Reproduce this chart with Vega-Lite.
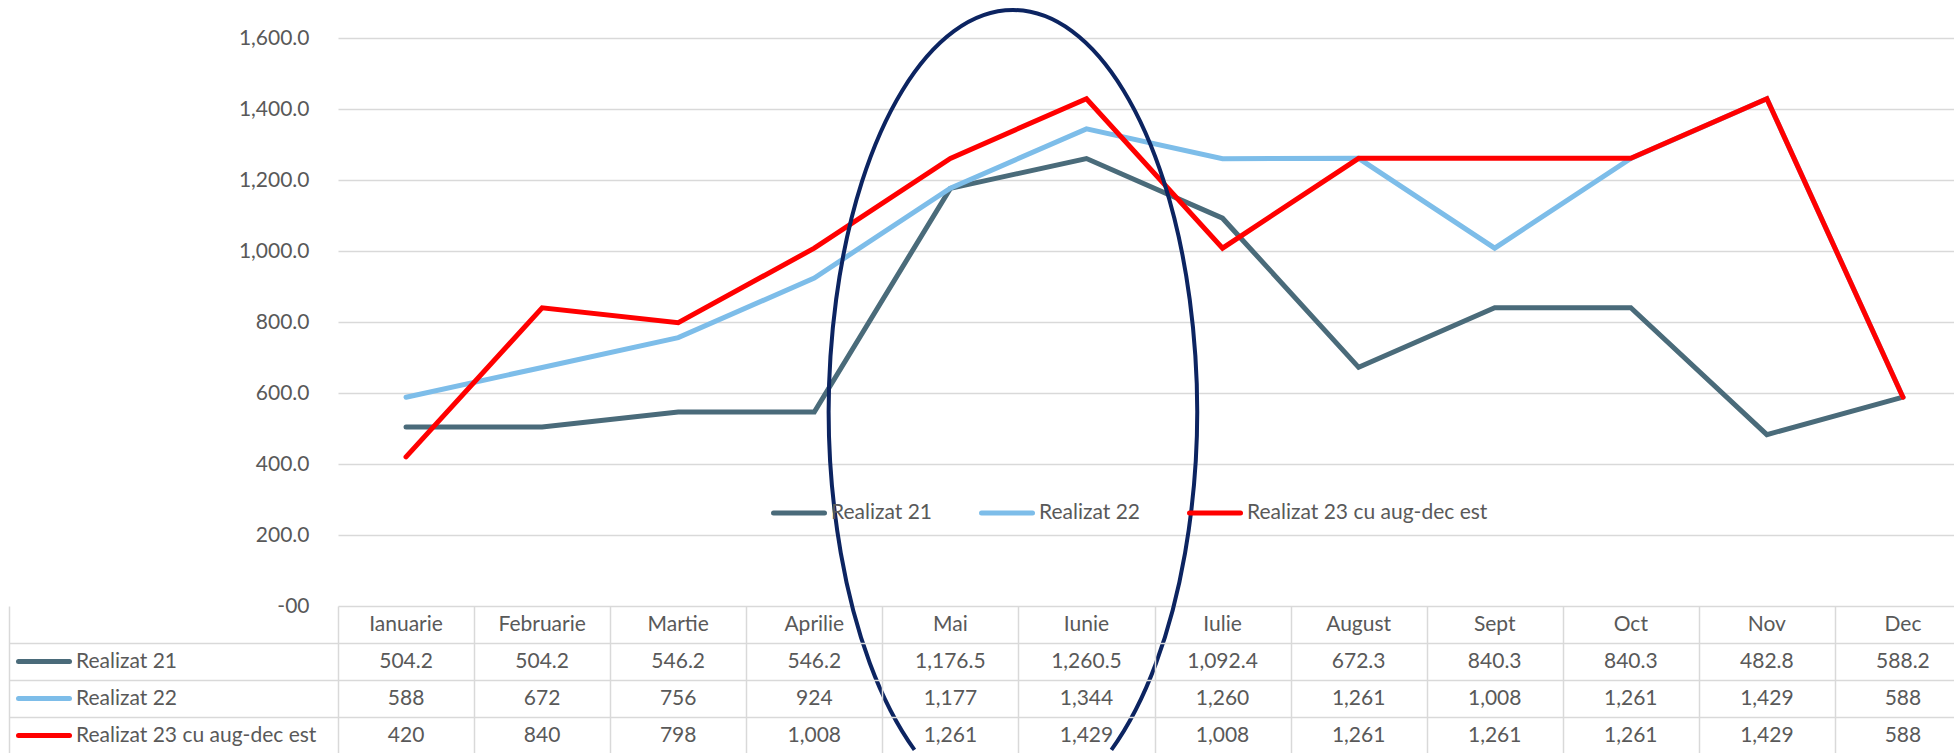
{
  "$schema": "https://vega.github.io/schema/vega-lite/v6.json",
  "background": "white",
  "padding": {"left": 8, "top": 2, "right": 0, "bottom": 0},
  "autosize": {"type": "pad"},
  "bounds": "flush",
  "spacing": 0,
  "config": {"view": {"stroke": null}, "font": "Lato"},
  "resolve": {"scale": {"x": "independent", "y": "independent", "color": "independent"}, "legend": {"color": "independent"}},
  "datasets": {
    "d": [
      {"month": "Ianuarie", "series": "Realizat 21", "value": 504.2},
      {"month": "Februarie", "series": "Realizat 21", "value": 504.2},
      {"month": "Martie", "series": "Realizat 21", "value": 546.2},
      {"month": "Aprilie", "series": "Realizat 21", "value": 546.2},
      {"month": "Mai", "series": "Realizat 21", "value": 1176.5},
      {"month": "Iunie", "series": "Realizat 21", "value": 1260.5},
      {"month": "Iulie", "series": "Realizat 21", "value": 1092.4},
      {"month": "August", "series": "Realizat 21", "value": 672.3},
      {"month": "Sept", "series": "Realizat 21", "value": 840.3},
      {"month": "Oct", "series": "Realizat 21", "value": 840.3},
      {"month": "Nov", "series": "Realizat 21", "value": 482.8},
      {"month": "Dec", "series": "Realizat 21", "value": 588.2},
      {"month": "Ianuarie", "series": "Realizat 22", "value": 588},
      {"month": "Februarie", "series": "Realizat 22", "value": 672},
      {"month": "Martie", "series": "Realizat 22", "value": 756},
      {"month": "Aprilie", "series": "Realizat 22", "value": 924},
      {"month": "Mai", "series": "Realizat 22", "value": 1177},
      {"month": "Iunie", "series": "Realizat 22", "value": 1344},
      {"month": "Iulie", "series": "Realizat 22", "value": 1260},
      {"month": "August", "series": "Realizat 22", "value": 1261},
      {"month": "Sept", "series": "Realizat 22", "value": 1008},
      {"month": "Oct", "series": "Realizat 22", "value": 1261},
      {"month": "Nov", "series": "Realizat 22", "value": 1429},
      {"month": "Dec", "series": "Realizat 22", "value": 588},
      {"month": "Ianuarie", "series": "Realizat 23 cu aug-dec est", "value": 420},
      {"month": "Februarie", "series": "Realizat 23 cu aug-dec est", "value": 840},
      {"month": "Martie", "series": "Realizat 23 cu aug-dec est", "value": 798},
      {"month": "Aprilie", "series": "Realizat 23 cu aug-dec est", "value": 1008},
      {"month": "Mai", "series": "Realizat 23 cu aug-dec est", "value": 1261},
      {"month": "Iunie", "series": "Realizat 23 cu aug-dec est", "value": 1429},
      {"month": "Iulie", "series": "Realizat 23 cu aug-dec est", "value": 1008},
      {"month": "August", "series": "Realizat 23 cu aug-dec est", "value": 1261},
      {"month": "Sept", "series": "Realizat 23 cu aug-dec est", "value": 1261},
      {"month": "Oct", "series": "Realizat 23 cu aug-dec est", "value": 1261},
      {"month": "Nov", "series": "Realizat 23 cu aug-dec est", "value": 1429},
      {"month": "Dec", "series": "Realizat 23 cu aug-dec est", "value": 588}
    ]
  },
  "vconcat": [
    {
      "width": 1633,
      "height": 568,
      "data": {"name": "d"},
      "layer": [
        {
          "mark": {"type": "line", "strokeWidth": 5, "strokeCap": "round", "strokeJoin": "miter"},
          "encoding": {
            "x": {"field": "month", "type": "nominal", "scale": {"type": "point", "padding": 0.5, "domain": ["Ianuarie", "Februarie", "Martie", "Aprilie", "Mai", "Iunie", "Iulie", "August", "Sept", "Oct", "Nov", "Dec"]}, "axis": null},
            "y": {
              "field": "value", "type": "quantitative",
              "scale": {"domain": [0, 1600], "nice": false, "zero": true},
              "axis": {
                "values": [0, 200, 400, 600, 800, 1000, 1200, 1400, 1600],
                "labelExpr": "datum.value === 0 ? '-00' : format(datum.value, ',.1f')",
                "title": null, "domain": false, "ticks": false, "tickSize": 0, "labelPadding": 29,
                "labelFont": "Lato", "labelFontSize": 21, "labelColor": "#595959", "labelBaseline": "middle",
                "grid": true, "gridColor": "#D9D9D9", "gridWidth": 1.5
              }
            },
            "color": {
              "field": "series", "type": "nominal",
              "scale": {"domain": ["Realizat 21", "Realizat 22", "Realizat 23 cu aug-dec est"], "range": ["#4A6B7A", "#7DBDE9", "#FF0000"]},
              "legend": {
                "orient": "none", "legendX": 433, "legendY": 462, "direction": "horizontal",
                "title": null, "padding": 0, "symbolType": "stroke", "symbolSize": 2601, "symbolStrokeWidth": 5,
                "labelFont": "Lato", "labelFontSize": 21, "labelColor": "#595959", "labelOffset": 4, "labelLimit": 500,
                "columnPadding": 46, "clipHeight": 26,
                "encode": {"symbols": {"update": {"strokeCap": {"value": "round"}}}}
              }
            }
          }
        },
        {
          "transform": [{"filter": "datum.series === 'Realizat 21' && datum.month === 'Mai'"}],
          "mark": {"type": "point", "shape": "M -0.0895 0.835 A 0.459 1 0 1 1 0.4015 0.835", "filled": false, "stroke": "#0C2461", "strokeWidth": 4, "size": 643204, "opacity": 1},
          "encoding": {
            "x": {"field": "month", "type": "nominal"},
            "y": {"datum": 538, "type": "quantitative"}
          }
        }
      ]
    },
    {
      "width": 1633,
      "height": 148,
      "data": {"name": "d"},
      "layer": [
        {
          "transform": [{"filter": "false"}],
          "mark": {"type": "line"},
          "encoding": {
            "x": {
              "field": "month", "type": "nominal",
              "scale": {"type": "band", "paddingInner": 0, "paddingOuter": 0, "domain": ["Ianuarie", "Februarie", "Martie", "Aprilie", "Mai", "Iunie", "Iulie", "August", "Sept", "Oct", "Nov", "Dec"]},
              "axis": {"orient": "bottom", "grid": true, "tickBand": "extent", "labels": false, "ticks": false, "domain": false, "title": null, "gridColor": "#D9D9D9", "gridWidth": 1.5}
            },
            "y": {
              "field": "series", "type": "nominal",
              "scale": {"type": "band", "paddingInner": 0, "paddingOuter": 0, "domain": ["hdr", "Realizat 21", "Realizat 22", "Realizat 23 cu aug-dec est"]},
              "axis": {
                "orient": "left", "values": ["Realizat 21", "Realizat 22", "Realizat 23 cu aug-dec est"], "tickBand": "extent",
                "offset": 329, "domain": true, "domainColor": "#D9D9D9", "domainWidth": 1.5,
                "ticks": true, "tickSize": -329, "tickColor": "#D9D9D9", "tickWidth": 1.5,
                "labels": false, "grid": true, "gridColor": "#D9D9D9", "gridWidth": 1.5, "title": null
              }
            },
            "color": {
              "field": "series", "type": "nominal",
              "scale": {"domain": ["Realizat 21", "Realizat 22", "Realizat 23 cu aug-dec est"], "range": ["#4A6B7A", "#7DBDE9", "#FF0000"]},
              "legend": {
                "orient": "none", "legendX": -322, "legendY": 42.5, "direction": "vertical",
                "title": null, "padding": 0, "symbolType": "stroke", "symbolSize": 2601, "symbolStrokeWidth": 5,
                "labelFont": "Lato", "labelFontSize": 21, "labelColor": "#595959", "labelOffset": 4, "labelLimit": 500,
                "rowPadding": 11, "clipHeight": 26,
                "encode": {"symbols": {"update": {"strokeCap": {"value": "round"}}}}
              }
            }
          }
        },
        {
          "transform": [{"filter": "datum.series === 'Realizat 21'"}],
          "mark": {"type": "text", "font": "Lato", "fontSize": 21, "color": "#595959", "align": "center", "baseline": "middle"},
          "encoding": {
            "x": {"field": "month", "type": "nominal"},
            "y": {"datum": "hdr", "type": "nominal"},
            "text": {"field": "month", "type": "nominal"}
          }
        },
        {
          "transform": [{"filter": "datum.series === 'Realizat 21'"}],
          "mark": {"type": "text", "font": "Lato", "fontSize": 21, "color": "#595959", "align": "center", "baseline": "middle"},
          "encoding": {
            "x": {"field": "month", "type": "nominal"},
            "y": {"field": "series", "type": "nominal"},
            "text": {"field": "value", "type": "quantitative", "format": ",.1f"}
          }
        },
        {
          "transform": [{"filter": "datum.series !== 'Realizat 21'"}],
          "mark": {"type": "text", "font": "Lato", "fontSize": 21, "color": "#595959", "align": "center", "baseline": "middle"},
          "encoding": {
            "x": {"field": "month", "type": "nominal"},
            "y": {"field": "series", "type": "nominal"},
            "text": {"field": "value", "type": "quantitative", "format": ",.0f"}
          }
        }
      ]
    }
  ]
}
